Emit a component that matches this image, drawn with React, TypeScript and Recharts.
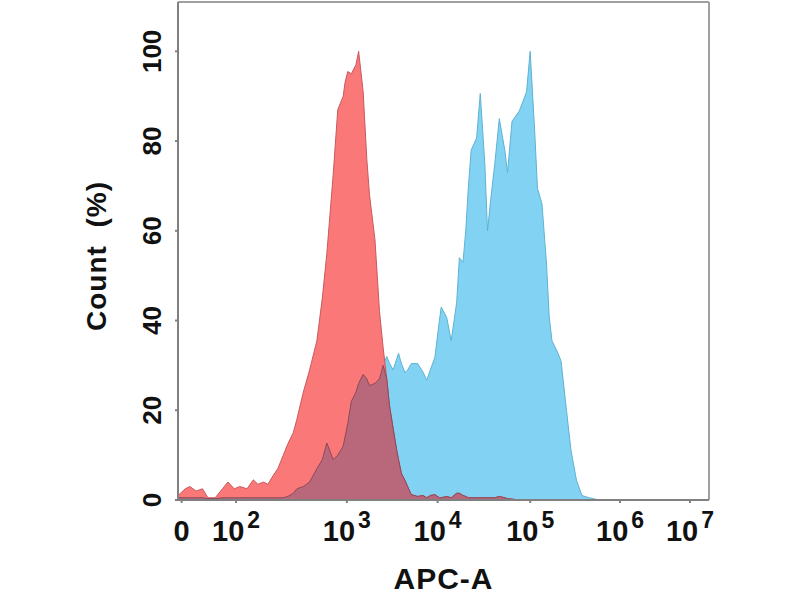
import { ComposedChart, Area, XAxis, YAxis, ReferenceLine } from "recharts";

// x is the display position on the APC-A axis (one unit ~ one decade)
const xPos = [
  1.14, 1.22, 1.27, 1.34, 1.41, 1.47, 1.55, 1.63, 1.69, 1.76, 1.82, 1.9, 1.97, 2.02, 2.08,
  2.13, 2.19, 2.24, 2.3, 2.35, 2.41, 2.45, 2.52, 2.59, 2.67, 2.73, 2.78, 2.85, 2.9, 2.93,
  2.96, 2.98, 3.01, 3.05, 3.1, 3.13, 3.18, 3.22, 3.25, 3.31, 3.36, 3.4, 3.44, 3.47, 3.51,
  3.55, 3.57, 3.6, 3.64, 3.67, 3.71, 3.78, 3.84, 3.88, 3.92, 3.97, 4.02, 4.04, 4.1, 4.15,
  4.21, 4.24, 4.28, 4.31, 4.34, 4.37, 4.43, 4.47, 4.52, 4.55, 4.58, 4.63, 4.68, 4.74, 4.77,
  4.82, 4.9, 4.98, 5.02, 5.07, 5.1, 5.15, 5.2, 5.23, 5.26, 5.32, 5.36, 5.42, 5.47, 5.53,
  5.59, 5.67, 5.78, 6.99,
];

// isotype control (red)
const redCounts = [
  1, 2.5, 3, 2, 2.5, 0.5, 0.5, 2.5, 4, 2.5, 3, 2.5, 4.5, 3.5, 4,
  3.5, 5.5, 7, 10, 12.5, 15, 18, 24, 29, 35.5, 45, 55, 72.6, 87, 88.5,
  90, 93, 95.5, 95, 97, 100, 91, 76, 68, 58, 42, 34, 27, 21, 16,
  11, 9, 6, 4.4, 3, 1.2, 0.8, 1, 0.5, 1, 1.2, 0.5, 0.5, 0.8, 0.5,
  1.5, 1.5, 1, 0.8, 0.5, 0.5, 0.5, 0.5, 0.5, 0.5, 0.5, 0.5, 0.8, 0.5, 0.3,
  0.2, 0, 0, 0, 0, 0, 0, 0, 0, 0, 0, 0, 0, 0, 0,
  0, 0, 0, 0,
];

// stained sample (blue)
const blueCounts = [
  0.5, 0.5, 0.5, 0.5, 0.5, 0.3, 0.3, 0.5, 0.5, 0.5, 0.5, 0.5, 0.5, 0.5, 0.5,
  0.5, 0.5, 0.5, 0.5, 0.8, 1.5, 2.5, 3, 4, 7, 9, 12.7, 9, 10, 11,
  12, 14, 17, 22, 24, 26, 28, 27, 25.5, 26, 27, 30, 32, 30.5, 29,
  31.5, 32.7, 30.5, 28.4, 29, 30.4, 30.4, 28.5, 26.7, 29, 31.8, 40, 43, 40.7, 35.5,
  44, 54, 53, 60, 70, 78, 80.7, 90.6, 75, 60, 66, 75, 85, 78, 73,
  84.4, 86.7, 91, 100, 82, 69.5, 66, 52.6, 40.7, 35.5, 33, 31, 20, 11, 4.4,
  1, 0.5, 0, 0,
];

const xTickPos = [1.18, 1.78, 3, 4, 5.02, 6.01, 6.78];
const xTickExp = [null, 2, 3, 4, 5, 6, 7];
const yTicks = [0, 20, 40, 60, 80, 100];
const xMin = 1.14;
const xMax = 6.99;
const yMax = 111;

const data = xPos.map((x, i) => ({
  x,
  red: redCounts[i],
  blue: blueCounts[i],
  both: Math.min(redCounts[i], blueCounts[i]),
}));

const FONT = '"Liberation Sans", Arial, sans-serif';
const AXIS = "#808080";

function XTick(props: any) {
  const { x, y, index } = props;
  const exp = xTickExp[index];
  return (
    <text x={x} y={y + 36} textAnchor="middle" fontFamily={FONT} fontWeight="bold" fontSize={29} fill="#111">
      {exp === null ? (
        "0"
      ) : (
        <>
          <tspan>10</tspan>
          <tspan dx={3} dy={-13} fontSize={23}>{exp}</tspan>
        </>
      )}
    </text>
  );
}

function YTick(props: any) {
  const { x, y, payload } = props;
  const cx = x - 21;
  return (
    <text
      x={cx}
      y={y}
      transform={`rotate(-90, ${cx}, ${y})`}
      textAnchor="middle"
      dominantBaseline="central"
      fontFamily={FONT}
      fontWeight="bold"
      fontSize={26}
      fill="#111"
    >
      {payload.value}
    </text>
  );
}

function XTitle(props: any) {
  const { viewBox } = props;
  const cx = viewBox.x + viewBox.width / 2;
  return (
    <text x={cx} y={589} textAnchor="middle" fontFamily={FONT} fontWeight="bold" fontSize={30} letterSpacing={1} fill="#111">
      APC-A
    </text>
  );
}

function YTitle(props: any) {
  const { viewBox } = props;
  const cy = viewBox.y + viewBox.height / 2 + 5;
  const cx = 96;
  return (
    <text
      x={cx}
      y={cy}
      transform={`rotate(-90, ${cx}, ${cy})`}
      textAnchor="middle"
      dominantBaseline="central"
      fontFamily={FONT}
      fontWeight="bold"
      fontSize={28}
      letterSpacing={1}
      fill="#111"
      style={{ whiteSpace: "pre" }}
    >
      {"Count  (%)"}
    </text>
  );
}

export default function App() {
  return (
    <div style={{ width: 800, height: 600, background: "#fff" }}>
      <style>{"body{margin:0}"}</style>
      <ComposedChart width={800} height={600} data={data} margin={{ top: 2, right: 91, bottom: 0, left: 0 }}>
        <XAxis
          dataKey="x"
          type="number"
          domain={[xMin, xMax]}
          ticks={xTickPos}
          interval={0}
          height={100}
          stroke={AXIS}
          strokeWidth={2}
          tickSize={3}
          tick={<XTick />}
          label={<XTitle />}
        />
        <YAxis
          type="number"
          domain={[0, yMax]}
          ticks={yTicks}
          interval={0}
          width={178}
          stroke={AXIS}
          strokeWidth={2}
          tickSize={3}
          tick={<YTick />}
          label={<YTitle />}
        />
        <Area
          type="linear"
          dataKey="blue"
          fill="#82d3f3"
          fillOpacity={1}
          stroke="#5fb2d2"
          strokeWidth={1}
          dot={false}
          activeDot={false}
          isAnimationActive={false}
        />
        <Area
          type="linear"
          dataKey="red"
          fill="#fa7878"
          fillOpacity={1}
          stroke="#c85a5e"
          strokeWidth={1}
          dot={false}
          activeDot={false}
          isAnimationActive={false}
        />
        <Area
          type="linear"
          dataKey="both"
          fill="#b8687a"
          fillOpacity={1}
          stroke="#8c4a5a"
          strokeWidth={1}
          dot={false}
          activeDot={false}
          isAnimationActive={false}
        />
        <ReferenceLine y={yMax} stroke="#a0a0a0" strokeWidth={2} ifOverflow="extendDomain" />
        <ReferenceLine x={xMax} stroke="#a0a0a0" strokeWidth={2} ifOverflow="extendDomain" />
      </ComposedChart>
    </div>
  );
}
